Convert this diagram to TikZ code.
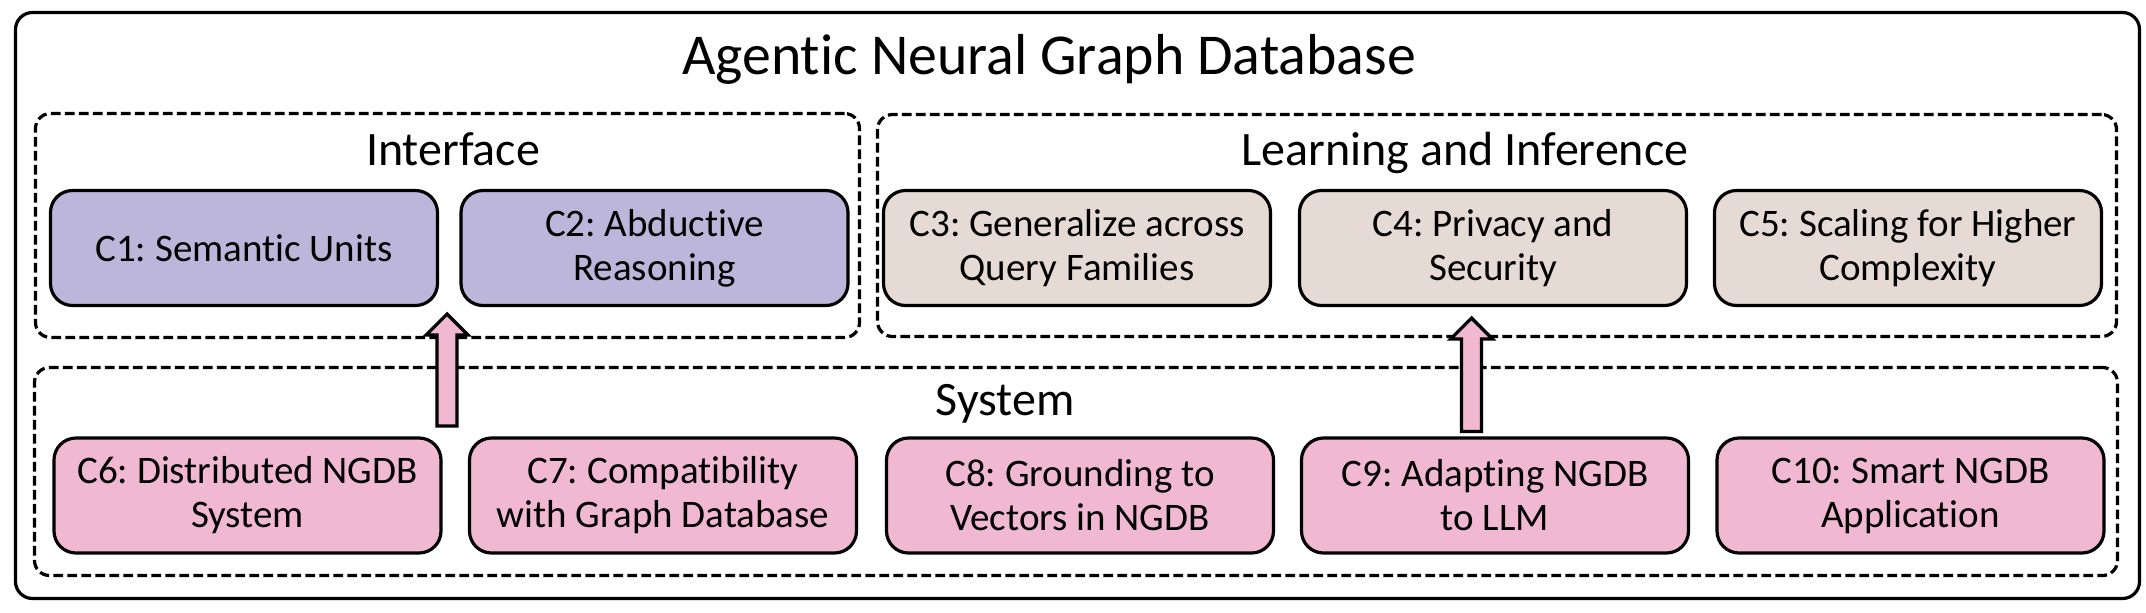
\documentclass[tikz,border=0pt]{standalone}
\usepackage{fontspec}
\setmainfont{Carlito}[Ligatures=NoCommon]
\usetikzlibrary{calc}
\definecolor{boxpurple}{HTML}{BCB7DA}
\definecolor{boxbeige}{HTML}{E5DAD4}
\definecolor{boxpink}{HTML}{F0B8D1}
\frenchspacing
\begin{document}
\begin{tikzpicture}[x=0.5pt,y=-0.5pt,
  cbox/.style={draw=black, line width=1.6pt, rounded corners=11pt,
    minimum width=193.5pt, minimum height=57.5pt, align=center, inner sep=0pt,
    font=\fontsize{19.5}{22}\selectfont},
  ifbox/.style={cbox, fill=boxpurple},
  lrbox/.style={cbox, fill=boxbeige},
  sybox/.style={cbox, fill=boxpink},
  container/.style={draw=black, line width=1.6pt, dash pattern=on 4.8pt off 2.2pt,
    rounded corners=7.5pt, inner sep=0pt},
  outerbox/.style={draw=black, line width=1.6pt, rounded corners=8.5pt, inner sep=0pt},
  seclabel/.style={anchor=base, inner sep=0pt, font=\fontsize{24}{28}\selectfont},
  titlelabel/.style={anchor=base, inner sep=0pt, font=\fontsize{28.9}{34}\selectfont},
  blockarrow/.style={draw=black, fill=boxpink, line width=1.6pt, line join=miter}
]
\useasboundingbox (0,0) rectangle (2146,612);

% outer frame and containers
\node[outerbox, minimum width=1062pt, minimum height=293pt] (outer) at (1077.5,305.5) {};
\node[container, minimum width=412pt, minimum height=112pt] (iface) at (447.5,225.5) {};
\node[container, minimum width=619.5pt, minimum height=111pt] (learn) at (1497,225.5) {};
\node[container, minimum width=1041.5pt, minimum height=104pt] (sys) at (1076,471.5) {};

% labels
\node[titlelabel] (title) at (1049,74) {Agentic Neural Graph Database};
\node[seclabel] (ifacelab) at (453,165) {Interface};
\node[seclabel] (learnlab) at (1465,165) {Learning and Inference};
\node[seclabel] (syslab) at (1005,415) {System};

% top row
\node[ifbox] (C1) at (244,248) {C1: Semantic Units};
\node[ifbox] (C2) at (654.5,248) {C2: Abductive\\Reasoning};
\node[lrbox] (C3) at (1077,248) {C3: Generalize across\\Query Families};
\node[lrbox] (C4) at (1493,248) {C4: Privacy and\\Security};
\node[lrbox] (C5) at (1908,248) {C5: Scaling for Higher\\Complexity};

% bottom row
\node[sybox] (C6) at (247.5,495.5) {C6: Distributed NGDB\\System};
\node[sybox] (C7) at (663,495.5) {C7: Compatibility\\with Graph Database};
\node[sybox] (C8) at (1080,495.5) {C8: Grounding to\\Vectors in NGDB};
\node[sybox] (C9) at (1495,495.5) {C9: Adapting NGDB\\to LLM};
\node[sybox] (C10) at (1910.5,495.5) {C10: Smart NGDB\\Application};

% block arrows
\coordinate (a1b) at (447,426);
\coordinate (a1t) at (447,314);
\coordinate (a2b) at (1471.5,431.5);
\coordinate (a2t) at (1471.5,318);
\draw[blockarrow] ($(a1b)+(-10,0)$) -- ($(a1t)+(-10,21)$) -- ($(a1t)+(-21,21)$) -- (a1t)
  -- ($(a1t)+(21,21)$) -- ($(a1t)+(10,21)$) -- ($(a1b)+(10,0)$) -- cycle;
\draw[blockarrow] ($(a2b)+(-10,0)$) -- ($(a2t)+(-10,21)$) -- ($(a2t)+(-21,21)$) -- (a2t)
  -- ($(a2t)+(21,21)$) -- ($(a2t)+(10,21)$) -- ($(a2b)+(10,0)$) -- cycle;
\end{tikzpicture}
\end{document}
